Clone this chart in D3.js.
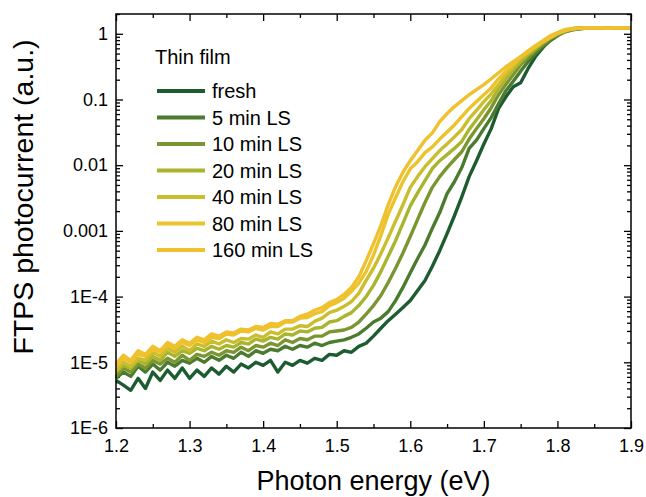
<!DOCTYPE html>
<html>
<head>
<meta charset="utf-8">
<script src="https://cdn.jsdelivr.net/npm/d3@7"></script>
<style>
  body { margin: 0; background: #fff; }
  svg { display: block; }
  text { font-family: "Liberation Sans", Arial, sans-serif; fill: #000; }
</style>
</head>
<body>
<svg id="chart" width="646" height="497"></svg>
<script>
const energy = [1.20, 1.21, 1.22, 1.23, 1.24, 1.25, 1.26, 1.27, 1.28, 1.29,
    1.30, 1.31, 1.32, 1.33, 1.34, 1.35, 1.36, 1.37, 1.38, 1.39,
    1.40, 1.41, 1.42, 1.43, 1.44, 1.45, 1.46, 1.47, 1.48, 1.49,
    1.50, 1.51, 1.52, 1.53, 1.54, 1.55, 1.56, 1.57, 1.58, 1.59,
    1.60, 1.61, 1.62, 1.63, 1.64, 1.65, 1.66, 1.67, 1.68, 1.69,
    1.70, 1.71, 1.72, 1.73, 1.74, 1.75, 1.76, 1.77, 1.78, 1.79,
    1.80, 1.81, 1.82, 1.83, 1.84, 1.85, 1.86, 1.87, 1.88, 1.89, 1.90];

const fresh = [5.3e-6, 4.5e-6, 3.75e-6, 5.7e-6, 4.0e-6, 7.1e-6, 5.3e-6, 7.6e-6, 5.7e-6, 8.2e-6,
    5.7e-6, 7.6e-6, 6.1e-6, 8.2e-6, 6.6e-6, 8.7e-6, 7.1e-6, 9.4e-6, 8.2e-6, 1.0e-5,
    9.0e-6, 1.07e-5, 7.1e-6, 1.0e-5, 9.0e-6, 1.07e-5, 9.7e-6, 1.15e-5, 1.07e-5, 1.32e-5,
    1.28e-5, 1.5e-5, 1.42e-5, 1.75e-5, 1.95e-5, 2.5e-5, 3.3e-5, 4.3e-5, 5.4e-5, 6.8e-5,
    8.7e-5, 1.24e-4, 1.76e-4, 2.9e-4, 5.0e-4, 9.1e-4, 1.7e-3, 3.3e-3, 6.7e-3, 1.17e-2,
    2.1e-2, 3.6e-2, 7.3e-2, 0.11, 0.156, 0.18, 0.294, 0.447, 0.61, 0.81,
    0.966, 1.11, 1.19, 1.22, 1.23, 1.23, 1.23, 1.22, 1.23, 1.23, 1.23];

const ls5 = [5.7e-6, 7.1e-6, 6.1e-6, 8.7e-6, 7.1e-6, 9.4e-6, 7.6e-6, 1.0e-5, 8.7e-6, 1.07e-5,
    9.7e-6, 1.15e-5, 1.0e-5, 1.23e-5, 1.07e-5, 1.28e-5, 1.15e-5, 1.42e-5, 1.23e-5, 1.5e-5,
    1.37e-5, 1.58e-5, 1.5e-5, 1.75e-5, 1.58e-5, 1.8e-5, 1.7e-5, 1.95e-5, 1.8e-5, 2.0e-5,
    2.1e-5, 2.2e-5, 2.4e-5, 2.7e-5, 3.3e-5, 4.1e-5, 4.7e-5, 5.9e-5, 8.7e-5, 1.38e-4,
    2.3e-4, 3.8e-4, 6.1e-4, 1.1e-3, 1.9e-3, 3.7e-3, 5.6e-3, 9.2e-3, 1.8e-2, 2.4e-2,
    3.6e-2, 5.3e-2, 8.6e-2, 0.136, 0.19, 0.27, 0.375, 0.497, 0.634, 0.78,
    0.932, 1.07, 1.15, 1.19, 1.22, 1.23, 1.23, 1.23, 1.22, 1.23, 1.23];

const ls10 = [6.1e-6, 8.2e-6, 7.1e-6, 9.4e-6, 8.2e-6, 1.07e-5, 9.4e-6, 1.15e-5, 1.0e-5, 1.28e-5,
    1.07e-5, 1.32e-5, 1.23e-5, 1.42e-5, 1.28e-5, 1.5e-5, 1.42e-5, 1.7e-5, 1.5e-5, 1.8e-5,
    1.7e-5, 1.95e-5, 1.8e-5, 2.2e-5, 2.0e-5, 2.3e-5, 2.2e-5, 2.5e-5, 2.5e-5, 2.9e-5,
    3.0e-5, 3.1e-5, 3.4e-5, 4.1e-5, 5.4e-5, 7.3e-5, 1.04e-4, 1.64e-4, 2.7e-4, 4.6e-4,
    8.2e-4, 1.5e-3, 2.7e-3, 4.6e-3, 6.7e-3, 9.2e-3, 1.22e-2, 1.6e-2, 2.5e-2, 3.6e-2,
    5.1e-2, 7.5e-2, 0.118, 0.17, 0.238, 0.338, 0.43, 0.55, 0.68, 0.84,
    0.966, 1.07, 1.15, 1.19, 1.22, 1.23, 1.23, 1.22, 1.23, 1.23, 1.23];

const ls20 = [7.1e-6, 9.0e-6, 8.2e-6, 1.07e-5, 9.4e-6, 1.23e-5, 1.07e-5, 1.42e-5, 1.23e-5, 1.5e-5,
    1.37e-5, 1.63e-5, 1.5e-5, 1.75e-5, 1.58e-5, 1.8e-5, 1.7e-5, 2.0e-5, 1.9e-5, 2.25e-5,
    2.1e-5, 2.4e-5, 2.25e-5, 2.7e-5, 2.6e-5, 3.0e-5, 2.9e-5, 3.3e-5, 3.4e-5, 4.1e-5,
    4.3e-5, 5.0e-5, 5.7e-5, 7.3e-5, 1.0e-4, 1.48e-4, 2.4e-4, 4.1e-4, 7.1e-4, 1.3e-3,
    2.4e-3, 3.8e-3, 5.8e-3, 8.9e-3, 1.17e-2, 1.45e-2, 1.8e-2, 2.3e-2, 3.5e-2, 4.9e-2,
    7.0e-2, 9.6e-2, 0.146, 0.207, 0.284, 0.375, 0.48, 0.59, 0.73, 0.87,
    1.0, 1.11, 1.19, 1.22, 1.23, 1.23, 1.23, 1.22, 1.23, 1.23, 1.23];

const ls40 = [7.6e-6, 1.0e-5, 8.7e-6, 1.15e-5, 1.07e-5, 1.42e-5, 1.23e-5, 1.63e-5, 1.42e-5, 1.75e-5,
    1.5e-5, 1.9e-5, 1.75e-5, 2.1e-5, 1.9e-5, 2.2e-5, 2.0e-5, 2.3e-5, 2.25e-5, 2.6e-5,
    2.4e-5, 2.9e-5, 2.7e-5, 3.2e-5, 3.2e-5, 3.6e-5, 3.5e-5, 4.2e-5, 4.7e-5, 5.7e-5,
    6.2e-5, 7.1e-5, 8.4e-5, 1.12e-4, 1.76e-4, 2.7e-4, 4.5e-4, 7.9e-4, 1.4e-3, 2.5e-3,
    4.6e-3, 6.7e-3, 9.5e-3, 1.26e-2, 1.67e-2, 2.1e-2, 2.7e-2, 3.5e-2, 5.1e-2, 6.8e-2,
    9.3e-2, 0.122, 0.168, 0.238, 0.315, 0.42, 0.51, 0.634, 0.756, 0.90,
    1.035, 1.15, 1.19, 1.22, 1.23, 1.23, 1.23, 1.22, 1.23, 1.23, 1.23];

const ls80 = [8.7e-6, 1.15e-5, 1.0e-5, 1.32e-5, 1.23e-5, 1.58e-5, 1.42e-5, 1.8e-5, 1.63e-5, 2.0e-5,
    1.8e-5, 2.2e-5, 2.0e-5, 2.4e-5, 2.3e-5, 2.7e-5, 2.6e-5, 3.0e-5, 2.9e-5, 3.3e-5,
    3.1e-5, 3.5e-5, 3.5e-5, 4.1e-5, 4.1e-5, 4.7e-5, 4.8e-5, 5.5e-5, 5.9e-5, 7.3e-5,
    8.1e-5, 9.4e-5, 1.2e-4, 1.6e-4, 2.4e-4, 4.3e-4, 8.5e-4, 1.8e-3, 3.2e-3, 5.6e-3,
    8.8e-3, 1.13e-2, 1.55e-2, 1.9e-2, 2.5e-2, 3.2e-2, 4.1e-2, 5.5e-2, 7.3e-2, 9.3e-2,
    0.118, 0.15, 0.207, 0.27, 0.345, 0.447, 0.55, 0.66, 0.78, 0.932,
    1.035, 1.15, 1.19, 1.22, 1.23, 1.23, 1.23, 1.22, 1.23, 1.23, 1.23];

const ls160 = [9.4e-6, 1.28e-5, 1.07e-5, 1.5e-5, 1.32e-5, 1.75e-5, 1.5e-5, 2.0e-5, 1.75e-5, 2.2e-5,
    1.95e-5, 2.4e-5, 2.2e-5, 2.7e-5, 2.5e-5, 2.9e-5, 2.8e-5, 3.2e-5, 3.1e-5, 3.5e-5,
    3.4e-5, 3.9e-5, 3.8e-5, 4.3e-5, 4.3e-5, 5.0e-5, 5.4e-5, 6.2e-5, 6.8e-5, 8.1e-5,
    9.0e-5, 1.08e-4, 1.38e-4, 2.0e-4, 3.5e-4, 6.4e-4, 1.2e-3, 2.5e-3, 4.7e-3, 7.8e-3,
    1.17e-2, 1.67e-2, 2.4e-2, 3.1e-2, 4.6e-2, 6.1e-2, 7.8e-2, 9.6e-2, 0.118, 0.141,
    0.168, 0.207, 0.255, 0.315, 0.375, 0.447, 0.533, 0.634, 0.756, 0.87,
    1.0, 1.11, 1.19, 1.22, 1.23, 1.23, 1.23, 1.22, 1.23, 1.23, 1.23];

const seriesNames = ["fresh", "5 min LS", "10 min LS", "20 min LS", "40 min LS", "80 min LS", "160 min LS"];
const seriesValues = [fresh, ls5, ls10, ls20, ls40, ls80, ls160];
const seriesColors = ["#1d5c30", "#4b7b2e", "#7b9530", "#a9b52f", "#cbbd2c", "#ebc32b", "#f0c02f"];

const xTicks = [1.2, 1.3, 1.4, 1.5, 1.6, 1.7, 1.8, 1.9];
const yTicks = [1e-6, 1e-5, 1e-4, 1e-3, 1e-2, 1e-1, 1];
const yTickLabels = ["1E-6", "1E-5", "1E-4", "0.001", "0.01", "0.1", "1"];

const margin = {top: 14, right: 15, bottom: 69, left: 116};
const width = 646 - margin.left - margin.right;
const height = 497 - margin.top - margin.bottom;

const svg = d3.select('#chart');
const g = svg.append('g').attr('transform', `translate(${margin.left},${margin.top})`);

const x = d3.scaleLinear().domain([1.2, 1.9]).range([0, width]);
const y = d3.scaleLog().domain([1e-6, 2]).range([height, 0]);

const xMinor = x.ticks(14).filter(v => !xTicks.some(t => Math.abs(t - v) < 1e-9));
const yMinor = y.ticks().filter(v => !yTicks.some(t => Math.abs(t - v) / t < 1e-6));

function styleAxis(sel) {
    sel.select('.domain').remove();
    sel.selectAll('.tick line').attr('stroke', '#000').attr('stroke-width', 1.3);
    sel.selectAll('.tick text')
        .style('font-family', '"Liberation Sans", Arial, sans-serif')
        .style('font-size', '18px')
        .attr('fill', '#000');
}

// bottom
g.append('g').attr('transform', `translate(0,${height})`)
    .call(d3.axisBottom(x).tickValues(xTicks).tickSize(-7).tickPadding(11).tickFormat(d3.format('.1f')))
    .call(styleAxis);
g.append('g').attr('transform', `translate(0,${height})`)
    .call(d3.axisBottom(x).tickValues(xMinor).tickSize(-4).tickFormat(''))
    .call(styleAxis);
// top
g.append('g')
    .call(d3.axisTop(x).tickValues(xTicks).tickSize(-7).tickFormat(''))
    .call(styleAxis);
g.append('g')
    .call(d3.axisTop(x).tickValues(xMinor).tickSize(-4).tickFormat(''))
    .call(styleAxis);
// left
g.append('g')
    .call(d3.axisLeft(y).tickValues(yTicks).tickSize(-7).tickPadding(8)
        .tickFormat((d, i) => yTickLabels[i]))
    .call(styleAxis);
g.append('g')
    .call(d3.axisLeft(y).tickValues(yMinor).tickSize(-4).tickFormat(''))
    .call(styleAxis);
// right
g.append('g').attr('transform', `translate(${width},0)`)
    .call(d3.axisRight(y).tickValues(yTicks).tickSize(-7).tickFormat(''))
    .call(styleAxis);
g.append('g').attr('transform', `translate(${width},0)`)
    .call(d3.axisRight(y).tickValues(yMinor).tickSize(-4).tickFormat(''))
    .call(styleAxis);

// curves
const line = d3.line()
    .x((d, i) => x(energy[i]))
    .y(d => y(d));

g.selectAll('.curve')
    .data(seriesValues)
  .enter().append('path')
    .attr('class', 'curve')
    .attr('d', d => line(d))
    .attr('fill', 'none')
    .attr('stroke', (d, i) => seriesColors[i])
    .attr('stroke-width', 3.4)
    .attr('stroke-linejoin', 'round');

// frame
g.append('rect')
    .attr('width', width)
    .attr('height', height)
    .attr('fill', 'none')
    .attr('stroke', '#000')
    .attr('stroke-width', 1.5);

// legend
const legend = svg.append('g');
legend.append('text')
    .attr('x', 155).attr('y', 64)
    .style('font-size', '20px')
    .text('Thin film');

const items = legend.selectAll('.item')
    .data(seriesNames)
  .enter().append('g')
    .attr('class', 'item')
    .attr('transform', (d, i) => `translate(0,${91 + i * 26.5})`);
items.append('line')
    .attr('x1', 157).attr('x2', 205)
    .attr('stroke', (d, i) => seriesColors[i])
    .attr('stroke-width', 4);
items.append('text')
    .attr('x', 212).attr('y', 7)
    .style('font-size', '20px')
    .text(d => d);

// axis titles
svg.append('text')
    .attr('x', margin.left + width / 2).attr('y', 490)
    .attr('text-anchor', 'middle')
    .style('font-size', '27px')
    .text('Photon energy (eV)');

svg.append('text')
    .attr('transform', 'translate(33,197) rotate(-90)')
    .attr('text-anchor', 'middle')
    .style('font-size', '28.5px')
    .text('FTPS photocurrent (a.u.)');
</script>
</body>
</html>
